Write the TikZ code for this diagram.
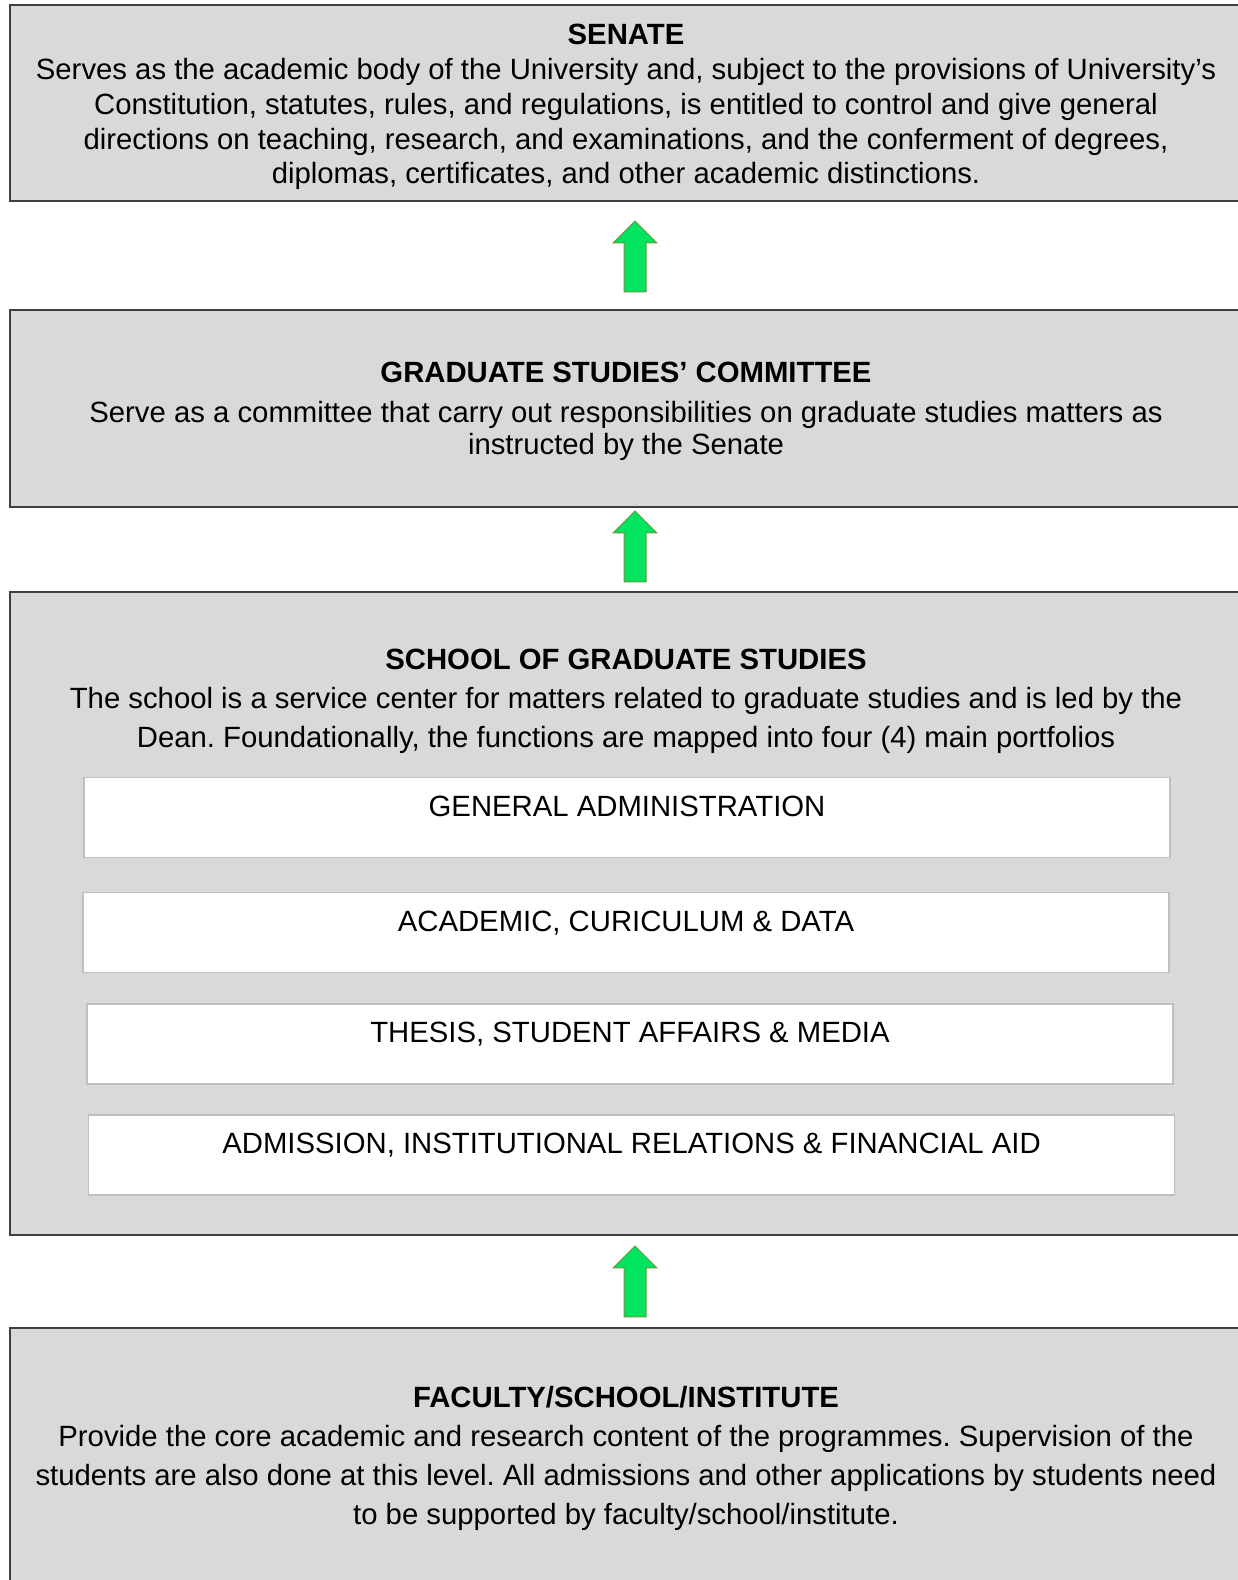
\documentclass[tikz,border=0pt]{standalone}
\usepackage{fontspec}
\setmainfont{Liberation Sans}
\usetikzlibrary{positioning,calc}

\definecolor{boxgrey}{RGB}{217,217,217}
\definecolor{boxedge}{RGB}{64,64,64}
\definecolor{portedge}{RGB}{191,191,191}
\definecolor{arrowgreen}{RGB}{0,228,96}
\definecolor{arrowedge}{RGB}{110,150,60}

\frenchspacing

\begin{document}
\begin{tikzpicture}
            [
                x=1pt, y=1pt,
                greybox/.style={rectangle, draw=boxedge, fill=boxgrey, line width=1.5pt, minimum width=1232pt, inner sep=0pt, outer sep=0pt},
                textblock/.style={inner sep=0pt, align=center, font=\fontsize{29.3}{38.7}\selectfont},
                portfoliobox/.style={rectangle, draw=portedge, fill=white, line width=1.5pt, minimum width=1086pt, minimum height=80pt, text height=22pt, text depth=24pt, inner sep=0pt, outer sep=0pt, font=\fontsize{29.3}{34.8}\selectfont},
                upblock/.pic={\draw[fill=arrowgreen, draw=arrowedge, line width=1pt] (-11,0) -- (-11,49) -- (-22,49) -- (0,71) -- (22,49) -- (11,49) -- (11,0) -- cycle;},
            ]

            \useasboundingbox (0,0) rectangle (1238,1580);

            %% SENATE
            \node[greybox, minimum height=196pt] (senate) at (626,1477) {};
            \node[textblock, font=\fontsize{29.3}{34.8}\selectfont] (senatetext) [below=19pt of senate.north] {\textbf{SENATE}\\
                Serves as the academic body of the University and, subject to the provisions of University’s\\
                Constitution, statutes, rules, and regulations, is entitled to control and give general\\
                directions on teaching, research, and examinations, and the conferment of degrees,\\
                diplomas, certificates, and other academic distinctions.};

            %% COMMITTEE
            \node[greybox, minimum height=197pt] (gsc) at (626,1171.5) {};
            \node[textblock, font=\fontsize{29.3}{32}\selectfont] (gsctext) [below=52pt of gsc.north] {\textbf{GRADUATE STUDIES’ COMMITTEE}\\[8pt]
                Serve as a committee that carry out responsibilities on graduate studies matters as\\
                instructed by the Senate};

            %% SCHOOL AND ITS PORTFOLIOS
            \node[greybox, minimum height=643pt] (sgs) at (626,666.5) {};
            \node[textblock] (sgstext) [below=57pt of sgs.north] {\textbf{SCHOOL OF GRADUATE STUDIES}\\
                The school is a service center for matters related to graduate studies and is led by the\\
                Dean. Foundationally, the functions are mapped into four (4) main portfolios};

            \node[portfoliobox] (admin) at (627,762.5) {GENERAL ADMINISTRATION};
            \node[portfoliobox] (academic) at (626,647.5) {ACADEMIC, CURICULUM \& DATA};
            \node[portfoliobox] (thesis) at (630,536) {THESIS, STUDENT AFFAIRS \& MEDIA};
            \node[portfoliobox] (admission) at (631.5,425) {ADMISSION, INSTITUTIONAL RELATIONS \& FINANCIAL AID};

            %% FACULTY
            \node[greybox, minimum height=254pt] (fsi) at (626,125) {};
            \node[textblock] (fsitext) [below=58.5pt of fsi.north] {\textbf{FACULTY/SCHOOL/INSTITUTE}\\
                Provide the core academic and research content of the programmes. Supervision of the\\
                students are also done at this level. All admissions and other applications by students need\\
                to be supported by faculty/school/institute.};

            %% ARROWS
            \pic (up1) at ($(gsc.north)+(9,18)$) {upblock};
            \pic (up2) at ($(sgs.north)+(9,10)$) {upblock};
            \pic (up3) at ($(fsi.north)+(9,11)$) {upblock};

        \end{tikzpicture}
\end{document}
